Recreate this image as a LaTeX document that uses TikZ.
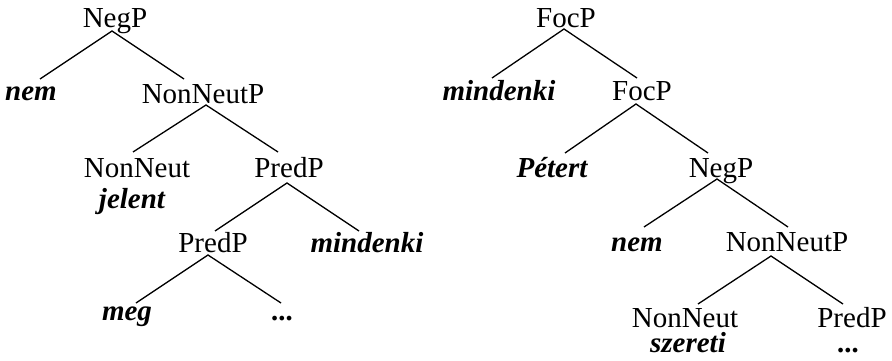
\documentclass[tikz,border=0pt]{standalone}
\usepackage{fontspec}
\setmainfont{Liberation Serif}
\begin{document}
\begin{tikzpicture}[x=1pt,y=-1pt,
  lab/.style={anchor=base,inner sep=0pt,font=\fontsize{29}{34}\selectfont},
  wrd/.style={lab,font=\fontsize{29}{34}\selectfont\bfseries\itshape},
  br/.style={line width=1.3pt}]
\useasboundingbox (0,0) rectangle (892,361);
% left tree
\node[lab] (negp) at (115,28) {NegP};
\node[wrd] (nem1) at (31,100) {nem};
\node[lab] (nonneutp1) at (203,103) {NonNeutP};
\node[lab] (nonneut1) at (137,177) {NonNeut};
\node[wrd] (jelent) at (132,208) {jelent};
\node[lab] (predp1) at (289,177) {PredP};
\node[lab] (predp2) at (213,252) {PredP};
\node[wrd] (mindenki1) at (367,252) {mindenki};
\node[wrd] (meg) at (127,320) {meg};
\node[wrd] (dots1) at (283,320) {...};
\coordinate (t1) at (40,79);  \coordinate (t2) at (184,79);
\coordinate (t3) at (133,152); \coordinate (t4) at (278,152);
\coordinate (t5) at (215,231); \coordinate (t6) at (359,231);
\coordinate (t7) at (136,303); \coordinate (t8) at (281,303);
\draw[br] (t1) -- ([shift={(-3,3)}]negp.base) -- (t2);
\draw[br] (t3) -- ([shift={(3,2)}]nonneutp1.base) -- (t4);
\draw[br] (t5) -- ([shift={(-2,6)}]predp1.base) -- (t6);
\draw[br] (t7) -- ([shift={(-5,3)}]predp2.base) -- (t8);
% right tree
\node[lab] (focp1) at (566,28) {FocP};
\node[wrd] (mindenki2) at (499,100) {mindenki};
\node[lab] (focp2) at (642,100) {FocP};
\node[wrd] (petert) at (552,177) {Pétert};
\node[lab] (negp2) at (721,177) {NegP};
\node[wrd] (nem2) at (637,251) {nem};
\node[lab] (nonneutp2) at (787,251) {NonNeutP};
\node[lab] (nonneut2) at (685,327) {NonNeut};
\node[lab] (predp3) at (852,327) {PredP};
\node[wrd] (szereti) at (688,352) {szereti};
\node[wrd] (dots2) at (849,352) {...};
\coordinate (u1) at (492,78);  \coordinate (u2) at (637,78);
\coordinate (u3) at (565,153); \coordinate (u4) at (708,153);
\coordinate (u5) at (644,227); \coordinate (u6) at (788,227);
\coordinate (u7) at (698,304); \coordinate (u8) at (843,304);
\draw[br] (u1) -- ([shift={(-2,1)}]focp1.base) -- (u2);
\draw[br] (u3) -- ([shift={(-6,4)}]focp2.base) -- (u4);
\draw[br] (u5) -- ([shift={(-4,2)}]negp2.base) -- (u6);
\draw[br] (u7) -- ([shift={(-16,5)}]nonneutp2.base) -- (u8);
\end{tikzpicture}
\end{document}
